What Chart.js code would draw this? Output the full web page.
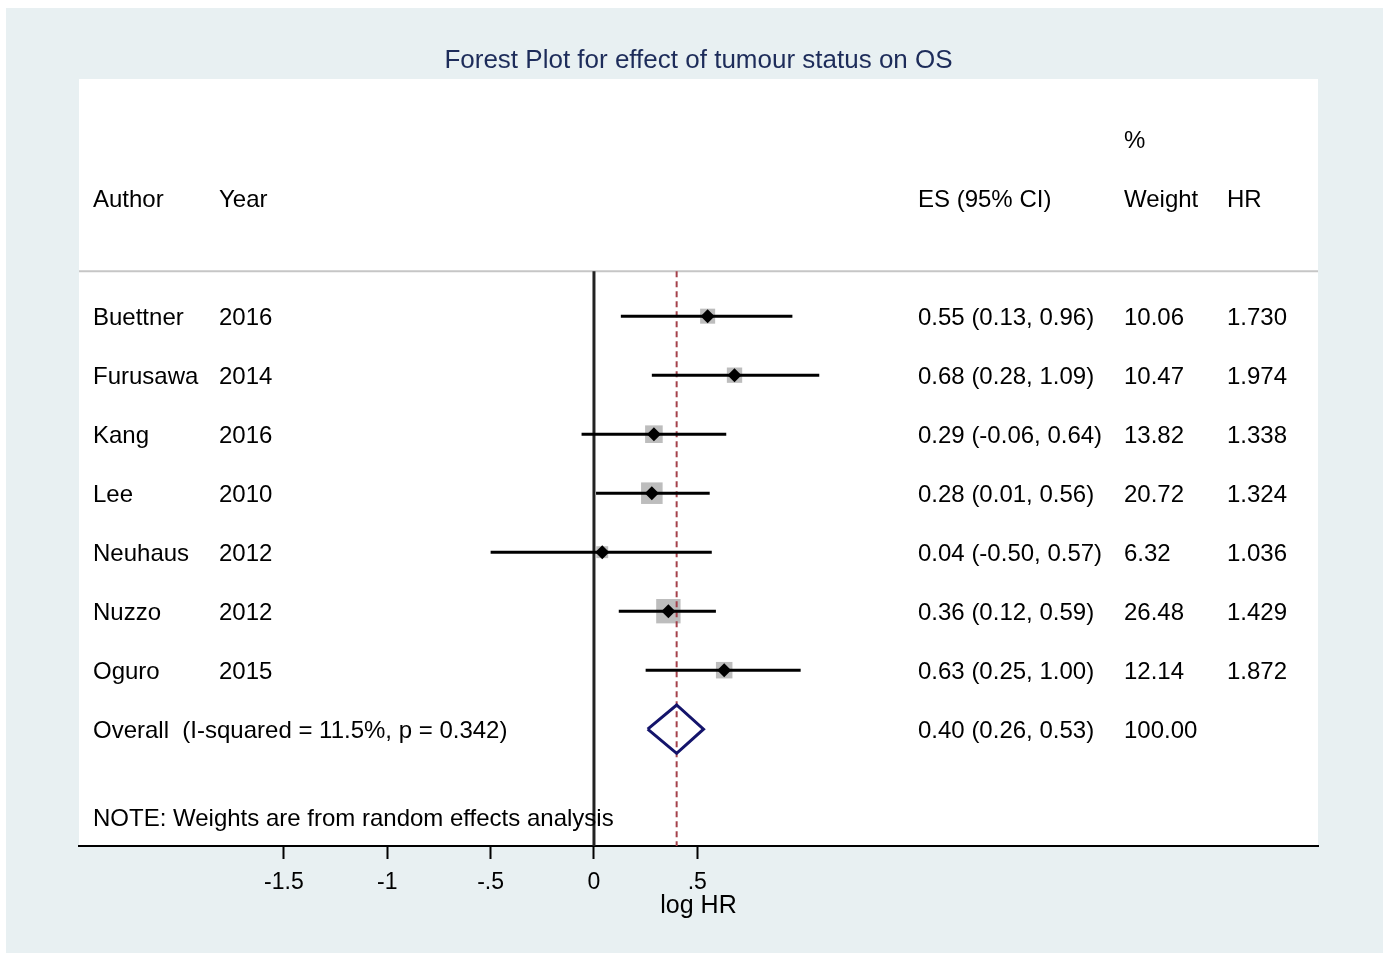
<!DOCTYPE html>
<html>
<head>
<meta charset="utf-8">
<title>Forest Plot</title>
<script src="https://cdn.jsdelivr.net/npm/chart.js@4.4.1/dist/chart.umd.min.js"></script>
<style>
	body { margin: 0; background: #fff; }
	canvas { display: block; }
</style>
</head>
<body>
<canvas id="forestChart" width="1386" height="956"></canvas>
<script>
// study rows, top to bottom
const authors = ['Buettner', 'Furusawa', 'Kang', 'Lee', 'Neuhaus', 'Nuzzo', 'Oguro']
const years = ['2016', '2014', '2016', '2010', '2012', '2012', '2015']
const estimates = [0.55, 0.68, 0.29, 0.28, 0.04, 0.36, 0.63]
const lower = [0.13, 0.28, -0.06, 0.01, -0.5, 0.12, 0.25]
const upper = [0.96, 1.09, 0.64, 0.56, 0.57, 0.59, 1.0]
const weights = [10.06, 10.47, 13.82, 20.72, 6.32, 26.48, 12.14]
const hrLabels = ['1.730', '1.974', '1.338', '1.324', '1.036', '1.429', '1.872']

// pooled estimate
const overallEs = 0.40
const overallLo = 0.26
const overallHi = 0.53
const overallWeight = '100.00'
const overallLabel = 'Overall  (I-squared = 11.5%, p = 0.342)'
const noteLabel = 'NOTE: Weights are from random effects analysis'

// x axis
const tickValues = [-1.5, -1, -0.5, 0, 0.5]
const tickLabels = ['-1.5', '-1', '-.5', '0', '.5']

document.addEventListener('DOMContentLoaded', () => {
	const FONT = "'Liberation Sans', Arial, sans-serif"
	const overallRow = authors.length
	const noteRow = overallRow + 1.5
	const headerRow = -2
	const sepRow = -0.76
	const yMin = -4.02
	const yMax = 8.98
	const xMin = -2.4915
	const xMax = 3.503
	const diamondHalf = 0.41

	const ciSets = authors.map((a, i) => ({
		data: [{ x: lower[i], y: i }, { x: upper[i], y: i }],
		showLine: true,
		borderColor: '#000',
		borderWidth: 3,
		pointRadius: 0,
		order: 3,
	}))

	const boxes = {
		data: estimates.map((e, i) => ({ x: e, y: i })),
		pointStyle: 'rect',
		pointRadius: weights.map(w => 3.35 * Math.sqrt(w)),
		backgroundColor: '#bdbdbd',
		borderColor: '#bdbdbd',
		borderWidth: 0,
		order: 6,
	}

	const points = {
		data: estimates.map((e, i) => ({ x: e, y: i })),
		pointStyle: 'rectRot',
		pointRadius: 7,
		backgroundColor: '#000',
		borderWidth: 0,
		order: 1,
	}

	const overallDiamond = {
		data: [
			{ x: overallLo, y: overallRow },
			{ x: overallEs, y: overallRow - diamondHalf },
			{ x: overallHi, y: overallRow },
			{ x: overallEs, y: overallRow + diamondHalf },
			{ x: overallLo, y: overallRow },
		],
		showLine: true,
		borderColor: '#14146b',
		borderWidth: 3,
		pointRadius: 0,
		order: 2,
	}

	const refLine = {
		data: [{ x: overallEs, y: sepRow }, { x: overallEs, y: yMax }],
		showLine: true,
		borderColor: '#a5424b',
		borderWidth: 2,
		borderDash: [6, 4],
		pointRadius: 0,
		order: 4,
	}

	const zeroLine = {
		data: [{ x: 0, y: sepRow }, { x: 0, y: yMax }],
		showLine: true,
		borderColor: '#222',
		borderWidth: 3,
		pointRadius: 0,
		order: 5,
	}

	const sepLine = {
		data: [{ x: xMin, y: sepRow }, { x: xMax, y: sepRow }],
		showLine: true,
		borderColor: '#c6c6c6',
		borderWidth: 2,
		pointRadius: 0,
		order: 5,
	}

	// panel backgrounds
	const backdrop = {
		id: 'backdrop',
		beforeDraw(chart) {
			const { ctx, chartArea: a } = chart
			ctx.save()
			ctx.fillStyle = '#fff'
			ctx.fillRect(0, 0, chart.width, chart.height)
			ctx.fillStyle = '#e8f0f2'
			ctx.fillRect(6, 8, 1377, 945)
			ctx.fillStyle = '#fff'
			ctx.fillRect(a.left, a.top, a.right - a.left, a.bottom - a.top)
			ctx.restore()
		},
	}

	// text columns of the table
	const tableText = {
		id: 'tableText',
		afterDatasetsDraw(chart) {
			const { ctx, chartArea: a, scales } = chart
			const y = v => scales.y.getPixelForValue(v) + 2
			const col = { author: a.left + 14, year: a.left + 140, es: a.left + 839, wt: a.left + 1045, hr: a.left + 1148 }
			const fmt = v => v.toFixed(2)
			ctx.save()
			ctx.font = '24px ' + FONT
			ctx.fillStyle = '#000'
			ctx.textAlign = 'left'
			ctx.textBaseline = 'middle'
			ctx.fillText('Author', col.author, y(headerRow))
			ctx.fillText('Year', col.year, y(headerRow))
			ctx.fillText('ES (95% CI)', col.es, y(headerRow))
			ctx.fillText('%', col.wt, y(headerRow - 1))
			ctx.fillText('Weight', col.wt, y(headerRow))
			ctx.fillText('HR', col.hr, y(headerRow))
			authors.forEach((name, i) => {
				ctx.fillText(name, col.author, y(i))
				ctx.fillText(years[i], col.year, y(i))
				ctx.fillText(fmt(estimates[i]) + ' (' + fmt(lower[i]) + ', ' + fmt(upper[i]) + ')', col.es, y(i))
				ctx.fillText(weights[i].toFixed(2), col.wt, y(i))
				ctx.fillText(hrLabels[i], col.hr, y(i))
			})
			ctx.fillText(overallLabel, col.author, y(overallRow))
			ctx.fillText(fmt(overallEs) + ' (' + fmt(overallLo) + ', ' + fmt(overallHi) + ')', col.es, y(overallRow))
			ctx.fillText(overallWeight, col.wt, y(overallRow))
			ctx.fillText(noteLabel, col.author, y(noteRow))
			ctx.restore()
		},
	}

	new Chart(document.getElementById('forestChart'), {
		type: 'scatter',
		data: {
			datasets: [...ciSets, boxes, points, overallDiamond, refLine, zeroLine, sepLine],
		},
		options: {
			responsive: false,
			animation: false,
			devicePixelRatio: 1,
			layout: { padding: { left: 79, right: 68, top: 0, bottom: 0 } },
			plugins: {
				legend: { display: false },
				tooltip: { enabled: false },
				title: {
					display: true,
					fullSize: false,
					text: 'Forest Plot for effect of tumour status on OS',
					color: '#1d2c5a',
					font: { family: FONT, size: 26, weight: 'normal' },
					padding: { top: 45.4, bottom: 2.4 },
				},
			},
			scales: {
				x: {
					type: 'linear',
					position: 'bottom',
					min: xMin,
					max: xMax,
					afterBuildTicks: scale => {
						scale.ticks = tickValues.map(v => ({ value: v }))
					},
					afterFit: scale => {
						scale.height = 110
					},
					grid: {
						display: true,
						drawOnChartArea: false,
						drawTicks: true,
						tickLength: 13,
						tickWidth: 2,
						tickColor: '#000',
					},
					border: { display: true, color: '#000', width: 2 },
					ticks: {
						color: '#000',
						padding: 10,
						font: { family: FONT, size: 23 },
						maxRotation: 0,
						autoSkip: false,
						callback: v => tickLabels[tickValues.indexOf(v)],
					},
					title: {
						display: true,
						text: 'log HR',
						color: '#000',
						font: { family: FONT, size: 25 },
						padding: { top: 0, bottom: 35 },
					},
				},
				y: {
					type: 'linear',
					display: false,
					reverse: true,
					min: yMin,
					max: yMax,
				},
			},
		},
		plugins: [backdrop, tableText],
	})
})
</script>
</body>
</html>
